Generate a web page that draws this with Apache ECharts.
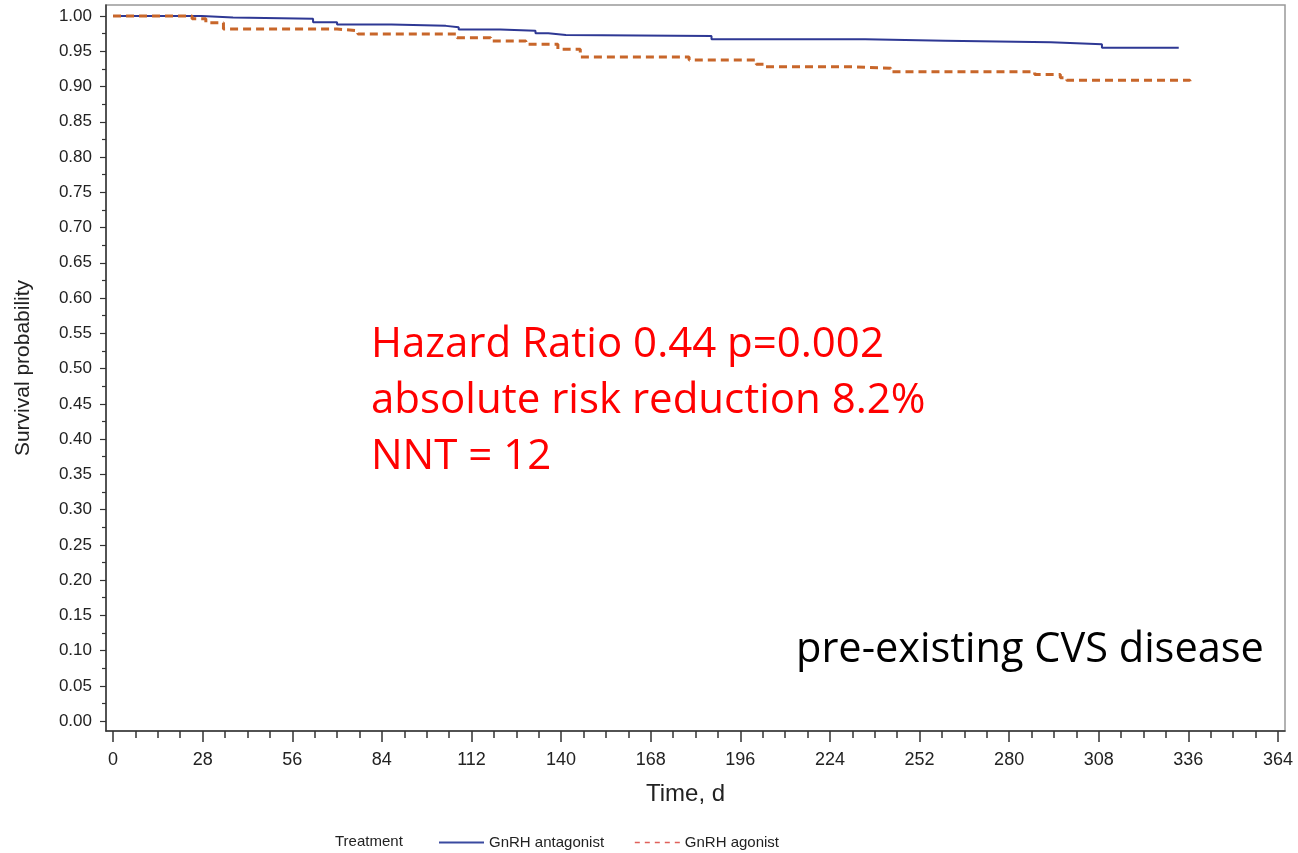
<!DOCTYPE html>
<html>
<head>
<meta charset="utf-8">
<script src="https://cdn.jsdelivr.net/npm/echarts@6/dist/echarts.min.js"></script>
<style>
  html, body { margin: 0; padding: 0; background: #fff; }
  #chart { width: 1298px; height: 853px; }
</style>
</head>
<body>
<div id="chart"></div>
<script>
// Kaplan-Meier steps (day, survival)
const antagonistDays = [0, 27.7, 37.5, 62.5, 70, 87, 104, 108, 121, 132, 136, 141.5, 187, 235, 260, 293, 309, 333]
const antagonistSurv = [1.000, 0.998, 0.996, 0.991, 0.988, 0.986, 0.984, 0.981, 0.979, 0.9755, 0.973, 0.9716, 0.967, 0.965, 0.9627, 0.960, 0.955, 0.955]
const agonistDays = [0, 24.7, 29, 34.5, 70, 76.5, 107.5, 118, 129, 139, 146, 180, 201, 204, 231, 243, 288, 296, 298, 336.5]
const agonistSurv = [1.000, 0.996, 0.9905, 0.9816, 0.979, 0.9745, 0.969, 0.9645, 0.960, 0.953, 0.942, 0.9376, 0.9315, 0.928, 0.926, 0.921, 0.917, 0.9125, 0.909, 0.905]

// axis ticks
const xTicks = [0, 28, 56, 84, 112, 140, 168, 196, 224, 252, 280, 308, 336, 364]
const xMinorTicks = [7, 14, 21, 35, 42, 49, 63, 70, 77, 91, 98, 105, 119, 126, 133, 147, 154, 161, 175, 182, 189, 203, 210, 217, 231, 238, 245, 259, 266, 273, 287, 294, 301, 315, 322, 329, 343, 350, 357]
const yTicks = [0, 0.05, 0.1, 0.15, 0.2, 0.25, 0.3, 0.35, 0.4, 0.45, 0.5, 0.55, 0.6, 0.65, 0.7, 0.75, 0.8, 0.85, 0.9, 0.95, 1]
const yMinorTicks = [0.025, 0.075, 0.125, 0.175, 0.225, 0.275, 0.325, 0.375, 0.425, 0.475, 0.525, 0.575, 0.625, 0.675, 0.725, 0.775, 0.825, 0.875, 0.925, 0.975]

const seriesNames = ['GnRH antagonist', 'GnRH agonist']

function pairs(xs, ys) {
  const out = []
  for (let i = 0; i < xs.length; i++) {
    out.push([xs[i], ys[i]])
  }
  return out
}

const myChart = echarts.init(document.getElementById('chart'))
const font = 'Liberation Sans, Arial, sans-serif'

const option = {
  animation: false,
  backgroundColor: '#fff',
  grid: {
    left: 106,
    right: 13,
    top: 5,
    bottom: 122,
    show: true,
    borderColor: '#999',
    borderWidth: 1.5
  },
  xAxis: [
    {
      type: 'value',
      min: -2.2,
      max: 366.2,
      position: 'bottom',
      splitLine: { show: false },
      axisLine: { onZero: false, lineStyle: { color: '#333', width: 1.5 } },
      axisTick: { customValues: xTicks, length: 11, lineStyle: { color: '#333', width: 1.5 } },
      axisLabel: {
        customValues: xTicks,
        fontSize: 18,
        fontFamily: font,
        color: '#222',
        margin: 20
      },
      name: 'Time, d',
      nameLocation: 'middle',
      nameGap: 51,
      nameTextStyle: { fontSize: 24, fontFamily: font, color: '#222', padding: [0, 20, 0, 0] }
    },
    {
      type: 'value',
      min: -2.2,
      max: 366.2,
      position: 'bottom',
      splitLine: { show: false },
      axisLine: { show: false, onZero: false },
      axisTick: { customValues: xMinorTicks, length: 7, lineStyle: { color: '#333', width: 1.5 } },
      axisLabel: { show: false }
    }
  ],
  yAxis: [
    {
      type: 'value',
      min: -0.014,
      max: 1.0156,
      position: 'left',
      splitLine: { show: false },
      axisLine: { onZero: false, lineStyle: { color: '#333', width: 1.5 } },
      axisTick: { customValues: yTicks, length: 6, lineStyle: { color: '#333', width: 1.2 } },
      axisLabel: {
        customValues: yTicks,
        formatter: v => v.toFixed(2),
        fontSize: 17,
        fontFamily: font,
        color: '#222',
        margin: 14
      },
      name: 'Survival probability',
      nameLocation: 'middle',
      nameGap: 72,
      nameRotate: 90,
      nameTextStyle: { fontSize: 21, fontFamily: font, color: '#222' }
    },
    {
      type: 'value',
      min: -0.014,
      max: 1.0156,
      position: 'left',
      splitLine: { show: false },
      axisLine: { show: false, onZero: false },
      axisTick: { customValues: yMinorTicks, length: 4, lineStyle: { color: '#333', width: 1.2 } },
      axisLabel: { show: false }
    }
  ],
  legend: {
    left: 433,
    top: 830,
    itemWidth: 45,
    itemHeight: 14,
    itemGap: 30,
    textStyle: { fontSize: 15, fontFamily: font, color: '#222' },
    data: [
      { name: seriesNames[0], itemStyle: { opacity: 0 }, lineStyle: { color: '#3a4aa0', width: 2, type: 'solid' } },
      { name: seriesNames[1], itemStyle: { opacity: 0 }, lineStyle: { color: '#e0605a', width: 1.5, type: [5, 5] } }
    ]
  },
  graphic: [
    {
      type: 'text',
      left: 335,
      top: 834,
      style: { text: 'Treatment', font: '15px ' + font, fill: '#222' }
    },
    {
      type: 'text',
      left: 371,
      top: 317,
      style: {
        text: 'Hazard Ratio 0.44 p=0.002\nabsolute risk reduction 8.2%\nNNT = 12',
        font: '42px Open Sans',
        lineHeight: 56,
        fill: '#ff0000'
      }
    },
    {
      type: 'text',
      left: 796,
      top: 622,
      style: {
        text: 'pre-existing CVS disease',
        font: '41.5px Open Sans',
        lineHeight: 56,
        fill: '#000'
      }
    }
  ],
  series: [
    {
      name: seriesNames[0],
      type: 'line',
      step: 'end',
      symbol: 'none',
      xAxisIndex: 0,
      yAxisIndex: 0,
      data: pairs(antagonistDays, antagonistSurv),
      lineStyle: { color: '#2e3894', width: 2 },
      itemStyle: { color: '#2e3894' }
    },
    {
      name: seriesNames[1],
      type: 'line',
      step: 'end',
      symbol: 'none',
      xAxisIndex: 0,
      yAxisIndex: 0,
      data: pairs(agonistDays, agonistSurv),
      lineStyle: { color: '#c8662a', width: 3, type: [8, 5] },
      itemStyle: { color: '#c8662a' }
    }
  ]
}

myChart.setOption(option)
</script>
</body>
</html>
